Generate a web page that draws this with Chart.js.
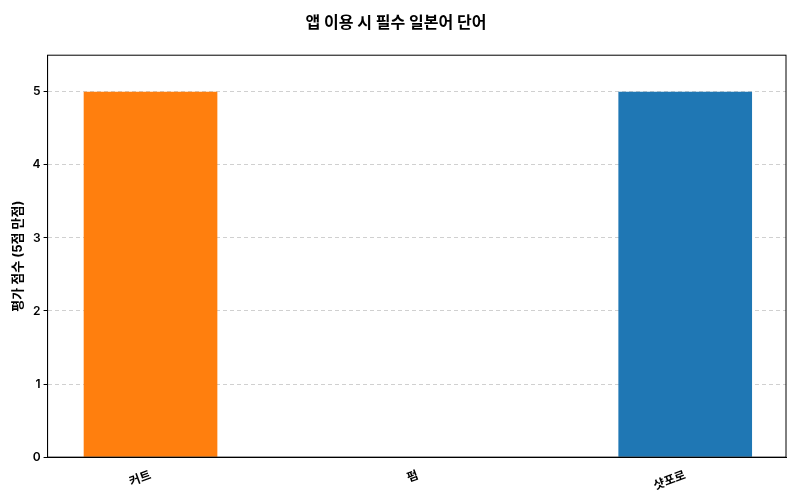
<!DOCTYPE html>
<html>
<head>
<meta charset="utf-8">
<script src="https://cdn.jsdelivr.net/npm/chart.js@4"></script>
<style>
  body { margin: 0; background: #fff; }
  #wrap { width: 800px; height: 500px; }
</style>
</head>
<body>
<div id="wrap"><canvas id="chart"></canvas></div>
<script>
const categories = ['커트', '펌', '샷포로'];
const scores = [5, 0, 5];
const barColors = ['#ff7f0e', '#2ca02c', '#1f77b4'];
const yTicks = [0, 1, 2, 3, 4, 5];

const FONT = "Inter, 'Noto Sans CJK KR', sans-serif";

// draw a full frame around the plot area
const frame = {
    id: 'frame',
    afterDatasetsDraw(chart) {
        const a = chart.chartArea, ctx = chart.ctx;
        ctx.save();
        ctx.strokeStyle = '#000';
        ctx.lineWidth = 1;
        ctx.strokeRect(a.left, a.top, a.right - a.left, a.bottom - a.top);
        ctx.restore();
    }
};

new Chart(document.getElementById('chart').getContext('2d'), {
    type: 'bar',
    data: {
        datasets: [{
            data: scores.map((v, i) => ({ x: i, y: v })),
            backgroundColor: barColors,
            categoryPercentage: 1,
            barPercentage: 0.5
        }]
    },
    plugins: [frame],
    options: {
        responsive: true,
        maintainAspectRatio: false,
        animation: false,
        layout: { padding: { left: 6, right: 14, top: 4, bottom: 4 } },
        plugins: {
            legend: { display: false },
            title: {
                display: true,
                text: '앱 이용 시 필수 일본어 단어',
                font: { family: FONT, size: 16, weight: 'bold' },
                color: '#000',
                padding: { top: 10, bottom: 22 }
            },
            tooltip: { enabled: false }
        },
        scales: {
            x: {
                type: 'linear',
                offset: false,
                min: -0.385,
                max: 2.377,
                afterBuildTicks: s => { s.ticks = categories.map((c, i) => ({ value: i })); },
                ticks: {
                    callback: v => categories[v],
                    minRotation: 20,
                    maxRotation: 20,
                    color: '#000',
                    font: { family: FONT, size: 12, weight: 600 }
                },
                grid: { display: false },
                border: { color: '#000' }
            },
            y: {
                min: 0,
                max: 5.5,
                afterBuildTicks: s => { s.ticks = yTicks.map(v => ({ value: v })); },
                ticks: { color: '#000', font: { family: FONT, size: 12, weight: 600 } },
                grid: { color: '#d0d0d0', tickColor: '#000', tickLength: 4 },
                border: { color: '#000', dash: [4, 3] },
                title: {
                    display: true,
                    text: '평가 점수 (5점 만점)',
                    color: '#000',
                    font: { family: FONT, size: 13, weight: 'bold' }
                }
            }
        }
    }
});
</script>
</body>
</html>
